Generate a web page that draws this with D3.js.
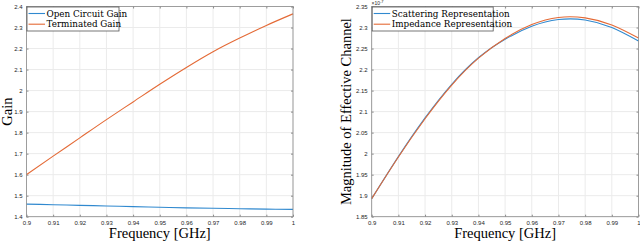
<!DOCTYPE html>
<html>
 <head>
    <title>Gain and Effective Channel</title>
    <script src="https://d3js.org/d3.v7.min.js"></script>
    <style>
      body { margin: 0; background: #fff; }
      .tick text { font-family: "Liberation Sans", Arial, sans-serif; font-size: 6px; fill: #262626; }
      .lbl { font-family: "Liberation Serif", "DejaVu Serif", serif; fill: #000; }
      .leg { font-family: "DejaVu Serif", serif; fill: #000; font-size: 8.8px; }
    </style>
 </head>
 <body>
    <div id="chart"></div>
    <script>
      // frequency points [GHz]
      var freq = [0.90, 0.91, 0.92, 0.93, 0.94, 0.95, 0.96, 0.97, 0.98, 0.99, 1.00];

      // left panel: gains
      var openCircuitGain = [1.460, 1.457, 1.454, 1.451, 1.448, 1.445, 1.442, 1.440, 1.438, 1.436, 1.435];
      var terminatedGain = [1.600, 1.688, 1.775, 1.862, 1.946, 2.030, 2.110, 2.185, 2.250, 2.310, 2.365];

      // right panel: magnitude of effective channel (x 1e-7)
      var scatteringRep = [1.893, 1.993, 2.085, 2.165, 2.228, 2.272, 2.303, 2.319, 2.318, 2.300, 2.268];
      var impedanceRep = [1.893, 1.992, 2.083, 2.163, 2.227, 2.274, 2.307, 2.324, 2.323, 2.306, 2.275];

      // ticks
      var xTicks = [0.9, 0.91, 0.92, 0.93, 0.94, 0.95, 0.96, 0.97, 0.98, 0.99, 1];
      var gainTicks = [1.4, 1.5, 1.6, 1.7, 1.8, 1.9, 2, 2.1, 2.2, 2.3, 2.4];
      var chanTicks = [1.85, 1.9, 1.95, 2, 2.05, 2.1, 2.15, 2.2, 2.25, 2.3, 2.35];

      var blue = "#3089cf";
      var orange = "#e46a36";

      var svg = d3.select("#chart").append("svg")
        .attr("width", 640)
        .attr("height", 241);

      var yTop = 6.5, yBot = 216.7;

      function fmt(d) { return String(+d.toFixed(2)); }

      function panel(opt) {
        var x = d3.scaleLinear().domain([0.9, 1]).range([opt.left, opt.right]);
        var y = d3.scaleLinear().domain(opt.yDomain).range([yBot, yTop]);
        var g = svg.append("g");

        // grid
        g.append("g")
          .selectAll("line").data(xTicks).enter().append("line")
          .attr("x1", function (d) { return x(d); }).attr("x2", function (d) { return x(d); })
          .attr("y1", yTop).attr("y2", yBot)
          .attr("stroke", "#ebebeb").attr("stroke-width", 1);
        g.append("g")
          .selectAll("line").data(opt.yTicks).enter().append("line")
          .attr("y1", function (d) { return y(d); }).attr("y2", function (d) { return y(d); })
          .attr("x1", opt.left).attr("x2", opt.right)
          .attr("stroke", "#ebebeb").attr("stroke-width", 1);

        // axes with inward ticks
        var xb = g.append("g").attr("transform", "translate(0," + yBot + ")")
          .call(d3.axisBottom(x).tickValues(xTicks).tickFormat(fmt).tickSizeInner(-2).tickSizeOuter(0).tickPadding(4));
        var xt = g.append("g").attr("transform", "translate(0," + yTop + ")")
          .call(d3.axisTop(x).tickValues(xTicks).tickFormat("").tickSizeInner(-2).tickSizeOuter(0));
        var yl = g.append("g").attr("transform", "translate(" + opt.left + ",0)")
          .call(d3.axisLeft(y).tickValues(opt.yTicks).tickFormat(fmt).tickSizeInner(-2).tickSizeOuter(0).tickPadding(4));
        var yr = g.append("g").attr("transform", "translate(" + opt.right + ",0)")
          .call(d3.axisRight(y).tickValues(opt.yTicks).tickFormat("").tickSizeInner(-2).tickSizeOuter(0));
        [xb, xt, yl, yr].forEach(function (a) {
          a.select(".domain").remove();
          a.selectAll(".tick line").attr("stroke", "#8a8a8a");
        });

        // lines
        var line = d3.line()
          .x(function (d) { return x(d[0]); })
          .y(function (d) { return y(d[1]); })
          .curve(d3.curveNatural);
        opt.series.forEach(function (s) {
          g.append("path")
            .datum(freq.map(function (f, i) { return [f, s.values[i]]; }))
            .attr("fill", "none")
            .attr("stroke", s.color)
            .attr("stroke-width", 1.1)
            .attr("d", line);
        });

        // box
        g.append("rect")
          .attr("x", opt.left).attr("y", yTop)
          .attr("width", opt.right - opt.left).attr("height", yBot - yTop)
          .attr("fill", "none").attr("stroke", "#8a8a8a").attr("stroke-width", 0.8);

        // legend
        var lg = g.append("g").attr("transform", "translate(" + opt.left + "," + yTop + ")");
        lg.append("rect")
          .attr("x", 0.5).attr("y", 0.5)
          .attr("width", opt.legendWidth).attr("height", 24)
          .attr("fill", "#fff").attr("stroke", "#555").attr("stroke-width", 0.8);
        opt.series.forEach(function (s, i) {
          var yy = 7 + i * 10.7;
          lg.append("line")
            .attr("x1", 2).attr("x2", 18.5)
            .attr("y1", yy).attr("y2", yy)
            .attr("stroke", s.color).attr("stroke-width", 1.1);
          lg.append("text")
            .attr("class", "leg")
            .attr("x", 20).attr("y", yy + 3.2)
            .text(s.name);
        });

        // axis labels
        g.append("text").attr("class", "lbl")
          .attr("x", (opt.left + opt.right) / 2).attr("y", 238)
          .attr("text-anchor", "middle")
          .style("font-size", "14.5px")
          .text("Frequency [GHz]");
        g.append("text").attr("class", "lbl")
          .attr("transform", "translate(" + opt.yLabelX + "," + ((yTop + yBot) / 2) + ") rotate(-90)")
          .attr("text-anchor", "middle")
          .style("font-size", "14.5px")
          .text(opt.yLabel);
        return g;
      }

      panel({
        left: 26.5, right: 293,
        yDomain: [1.4, 2.4], yTicks: gainTicks,
        yLabel: "Gain", yLabelX: 12,
        legendWidth: 92,
        series: [
          { name: "Open Circuit Gain", values: openCircuitGain, color: blue },
          { name: "Terminated Gain", values: terminatedGain, color: orange }
        ]
      });

      var rightPanel = panel({
        left: 371.7, right: 638.5,
        yDomain: [1.85, 2.35], yTicks: chanTicks,
        yLabel: "Magnitude of Effective Channel", yLabelX: 351,
        legendWidth: 121,
        series: [
          { name: "Scattering Representation", values: scatteringRep, color: blue },
          { name: "Impedance Representation", values: impedanceRep, color: orange }
        ]
      });

      // exponent label
      var ex = rightPanel.append("text")
        .attr("x", 371.5).attr("y", 5)
        .style("font-family", "Liberation Sans, Arial, sans-serif")
        .style("font-size", "5px")
        .style("fill", "#262626");
      ex.append("tspan").text("\u00d710");
      ex.append("tspan").attr("dy", -2).style("font-size", "4px").text("-7");
    </script>
 </body>
</html>
